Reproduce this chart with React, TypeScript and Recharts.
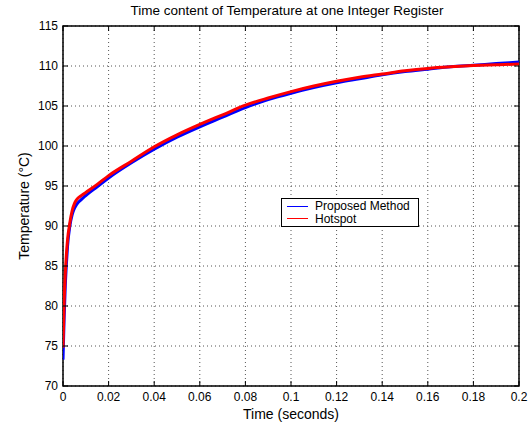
import React from "react";
import {
  LineChart,
  Line,
  XAxis,
  YAxis,
  CartesianGrid,
  Legend,
  ReferenceArea,
} from "recharts";

const times = [
  0, 0.0005, 0.001, 0.0015, 0.002, 0.003, 0.004, 0.005, 0.006, 0.008, 0.01,
  0.015, 0.02, 0.03, 0.04, 0.05, 0.06, 0.07, 0.08, 0.09, 0.1, 0.11, 0.12, 0.13,
  0.14, 0.15, 0.16, 0.17, 0.18, 0.19, 0.2,
];
const proposed = [
  73.3, 78.5, 82.5, 85.3, 87.5, 90.0, 91.4, 92.2, 92.7, 93.3, 93.8, 94.9, 96.0,
  97.9, 99.6, 101.1, 102.4, 103.6, 104.8, 105.8, 106.6, 107.3, 107.9, 108.4,
  108.9, 109.3, 109.6, 109.9, 110.1, 110.3, 110.5,
];
const hotspot = [
  74.8, 80.5, 84.0, 86.5, 88.3, 90.4, 91.9, 92.8, 93.3, 93.8, 94.2, 95.2, 96.3,
  98.1, 99.9, 101.4, 102.7, 103.9, 105.1, 106.0, 106.8, 107.5, 108.1, 108.6,
  109.0, 109.4, 109.7, 109.9, 110.05, 110.15, 110.25,
];
const xTicks = [0, 0.02, 0.04, 0.06, 0.08, 0.1, 0.12, 0.14, 0.16, 0.18, 0.2];
const yTicks = [70, 75, 80, 85, 90, 95, 100, 105, 110, 115];
const seriesNames = ["Proposed Method", "Hotspot"];
const seriesColors = ["#0000ff", "#ff0000"];
const title = "Time content of Temperature at one Integer Register";
const xLabel = "Time (seconds)";
const yLabel = "Temperature (\u00B0C)";

const data = times.map((t, i) => ({ t, proposed: proposed[i], hotspot: hotspot[i] }));

const W = 529;
const H = 429;
const M = { top: 26, right: 10, bottom: 0, left: 0 };
const YW = 63;
const XH = 43;
const PLOT_TOP = M.top;
const PLOT_BOTTOM = H - M.bottom - XH;
const PLOT_LEFT = M.left + YW;
const PLOT_RIGHT = W - M.right;
const FONT = "'Liberation Sans', Arial, Helvetica, sans-serif";
const TICK_LEN = 5;

const XTick = (props: any) => {
  const { x, y, payload } = props;
  return (
    <g>
      <line x1={x} x2={x} y1={PLOT_BOTTOM} y2={PLOT_BOTTOM - TICK_LEN} stroke="#000" />
      <line x1={x} x2={x} y1={PLOT_TOP} y2={PLOT_TOP + TICK_LEN} stroke="#000" />
      <text x={x} y={y} dy="0.71em" textAnchor="middle" fontSize={12} fontFamily={FONT} fill="#000">
        {String(payload.value)}
      </text>
    </g>
  );
};

const YTick = (props: any) => {
  const { x, y, payload } = props;
  return (
    <g>
      <line x1={PLOT_LEFT} x2={PLOT_LEFT + TICK_LEN} y1={y} y2={y} stroke="#000" />
      <line x1={PLOT_RIGHT} x2={PLOT_RIGHT - TICK_LEN} y1={y} y2={y} stroke="#000" />
      <text x={x} y={y} dy="0.355em" textAnchor="end" fontSize={12} fontFamily={FONT} fill="#000">
        {String(payload.value)}
      </text>
    </g>
  );
};

const LegendBox = () => (
  <div
    style={{
      width: 138,
      height: 29,
      border: "1.5px solid #000",
      background: "#fff",
      boxSizing: "border-box",
      fontFamily: FONT,
      fontSize: 12,
      padding: "1px 0 0 5px",
      lineHeight: "12.5px",
    }}
  >
    {seriesNames.map((n, i) => (
      <div key={n} style={{ display: "flex", alignItems: "center", height: 12.5 }}>
        <div style={{ width: 21, height: 1, background: seriesColors[i], marginRight: 7 }} />
        <span>{n}</span>
      </div>
    ))}
  </div>
);

export default function App() {
  return (
    <div style={{ position: "absolute", left: 0, top: 0, width: W, height: H, background: "#fff" }}>
      <div
        style={{
          position: "absolute",
          left: 37,
          top: 3,
          width: 500,
          textAlign: "center",
          fontFamily: FONT,
          fontSize: 13.5,
          lineHeight: "16px",
          color: "#000",
          whiteSpace: "nowrap",
        }}
      >
        {title}
      </div>
      <LineChart width={W} height={H} data={data} margin={M}>
        <CartesianGrid stroke="#555" strokeDasharray="1 3" />
        <XAxis
          dataKey="t"
          type="number"
          domain={[0, 0.2]}
          ticks={xTicks}
          interval={0}
          height={XH}
          tickSize={0}
          tickMargin={6}
          tickLine={false}
          axisLine={false}
          tick={<XTick />}
          allowDataOverflow
          label={{ value: xLabel, position: "insideBottom", offset: 10, fontSize: 14, fontFamily: FONT, fill: "#000" }}
        />
        <YAxis
          type="number"
          domain={[70, 115]}
          ticks={yTicks}
          interval={0}
          width={YW}
          tickSize={0}
          tickMargin={5}
          tickLine={false}
          axisLine={false}
          tick={<YTick />}
          allowDataOverflow
          label={{ value: yLabel, angle: -90, position: "insideLeft", offset: 24, fontSize: 14, fontFamily: FONT, fill: "#000", style: { textAnchor: "middle" } }}
        />
        <ReferenceArea x1={0} x2={0.2} y1={70} y2={115} fill="none" stroke="#000" strokeWidth={1.5} />
        <Legend
          layout="vertical"
          align="center"
          verticalAlign="middle"
          wrapperStyle={{ left: 281, top: 198, width: 138 }}
          content={<LegendBox />}
        />
        <Line
          type="monotone"
          dataKey="proposed"
          name={seriesNames[0]}
          stroke={seriesColors[0]}
          strokeWidth={3}
          dot={false}
          isAnimationActive={false}
        />
        <Line
          type="monotone"
          dataKey="hotspot"
          name={seriesNames[1]}
          stroke={seriesColors[1]}
          strokeWidth={3}
          dot={false}
          isAnimationActive={false}
        />
      </LineChart>
    </div>
  );
}
